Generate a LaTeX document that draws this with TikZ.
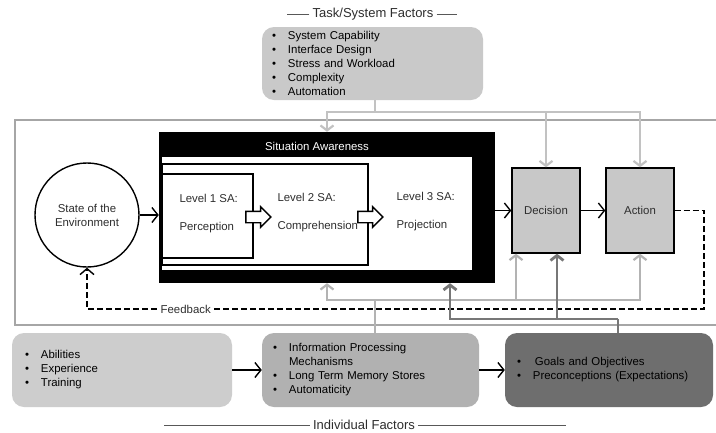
\documentclass[tikz,border=0pt]{standalone}
\usepackage{fontspec}
\setmainfont{Liberation Sans}
\usetikzlibrary{shapes,arrows,arrows.meta,positioning}
\definecolor{taskgray}{HTML}{C9C9C9}
\definecolor{boxgray}{HTML}{C8C8C8}
\definecolor{abilgray}{HTML}{CDCDCD}
\definecolor{infogray}{HTML}{B1B1B1}
\definecolor{goalgray}{HTML}{6E6E6E}
\definecolor{lightline}{HTML}{C2C2C2}
\definecolor{midline}{HTML}{B3B3B3}
\definecolor{darkline}{HTML}{777777}
\definecolor{framegray}{HTML}{A6A6A6}
\definecolor{ink}{HTML}{2E2E2E}
\tikzstyle{title} = [font=\fontsize{13}{15}\selectfont,text=ink,inner sep=3pt]
\tikzstyle{rule} = [-,line width=1pt,color=ink!80]
\tikzstyle{factor} = [rectangle,rounded corners=12pt,minimum height=74pt,align=left,text=black]
\tikzstyle{unit} = [draw,line width=1.4pt,rectangle,fill=boxgray,minimum width=68pt,minimum height=85pt,text=ink]
\tikzstyle{frame} = [-,line width=1.3pt,color=framegray]
\tikzstyle{level} = [anchor=west,align=left,text=ink]
\tikzstyle{levelbox} = [draw,line width=1.8pt,rectangle,inner sep=0]
\tikzstyle{block} = [single arrow,draw,line width=1.4pt,fill=white,minimum height=25pt,inner xsep=0,inner ysep=5pt,single arrow head extend=4.5pt]
\tikzstyle{flow} = [-{Straight Barb[length=6pt,width=15pt]},line width=1.4pt]
\tikzstyle{feedback} = [-{Straight Barb[length=6pt,width=14pt]},line width=1.4pt,dashed,dash pattern=on 6pt off 3pt]
\tikzstyle{taskline} = [-{Straight Barb[length=5pt,width=13pt]},line width=2.2pt,color=lightline]
\tikzstyle{indline} = [-{Straight Barb[length=5pt,width=13pt]},line width=2.2pt,color=midline]
\tikzstyle{goalline} = [-{Straight Barb[length=5pt,width=13pt]},line width=2.8pt,color=darkline]
\def \bl {\makebox[16pt][l]{\textbullet}}
\def \fs {\fontsize{11.4}{14}\selectfont}

\begin{document}
\begin{tikzpicture}[x=1pt,y=-1pt,font=\fs]
  \useasboundingbox[fill=white] (0,0) rectangle (716,432);
  \node[title] (tasktitle) at (373,14) {Task/System Factors};
  \draw[rule] (tasktitle.west) -- +(-22,0);
  \draw[rule] (tasktitle.east) -- +(20,0);
  \node[factor,fill=taskgray,inner xsep=10pt,text width=201pt,minimum height=73pt] (task) at (372.5,63.5)
    {\bl System Capability\\ \bl Interface Design\\ \bl Stress and Workload\\ \bl Complexity\\ \bl Automation};
  \draw[frame] (15,120) rectangle (724,325);

  \node[circle,draw,line width=1.4pt,minimum size=104pt,align=center,text=ink] (env) at (87,215) {State of the\\Environment};

  \node[rectangle,fill=black,minimum width=336pt,minimum height=151pt,inner sep=0] (sa) at (327,207.5) {};
  \node[rectangle,fill=white,minimum width=310pt,minimum height=113pt,inner sep=0] (sain) at (317,213.5) {};
  \node[text=white] (satitle) at (317,146) {Situation Awareness};
  \node[levelbox,minimum width=206pt,minimum height=101pt] (lv2box) at (265,214.5) {};
  \node[levelbox,minimum width=91pt,minimum height=84pt] (lv1box) at (207.5,216) {};
  \node[level] (lv1) at (176,214) {Level 1 SA:\\[14pt]Perception};
  \node[level] (lv2) at (274,213) {Level 2 SA:\\[14pt]Comprehension};
  \node[level] (lv3) at (393,212) {Level 3 SA:\\[14pt]Projection};
  \node[block] (blk1) at (255.5,217) {};
  \node[block] (blk2) at (367.5,217) {};

  \node[unit] (dec) at (546,210.5) {Decision};
  \node[unit] (act) at (640,210.5) {Action};

  \draw[flow] (env.east) -- (env.east -| sa.west);
  \draw[flow] (sa.east |- dec.west) -- (dec.west);
  \draw[flow] (dec) -- (act);

  \coordinate (fbr) at (704,309);
  \coordinate (fbl) at (87,309);
  \draw[feedback] (act.east) -| (fbr) -- (fbl) node[pos=.84,fill=white,inner sep=1pt,text=ink] (fbtext) {Feedback} -- (env.south);

  \coordinate (tsplit) at (375,112);
  \draw[taskline,-] (task.south -| tsplit) -- (tsplit);
  \draw[taskline] (tsplit) -| (sa.north);
  \draw[taskline] (tsplit) -| (dec.north);
  \draw[taskline] (tsplit) -| (act.north);

  \node[factor,fill=abilgray,inner xsep=13pt,text width=194pt] (abil) at (122,370)
    {\bl Abilities\\ \bl Experience\\ \bl Training};
  \node[factor,fill=infogray,inner xsep=11pt,text width=195pt] (info) at (370.5,370)
    {\bl Information Processing\\ \hspace*{16pt}Mechanisms\\ \bl Long Term Memory Stores\\ \bl Automaticity};
  \node[factor,fill=goalgray,inner xsep=12pt,text width=184pt] (goals) at (609,370)
    {\bl\hspace{2pt}Goals and Objectives\\ \bl Preconceptions (Expectations)};
  \draw[flow] (abil) -- (info);
  \draw[flow] (info) -- (goals);

  \coordinate (isplit) at (375,300);
  \draw[indline,-] (isplit |- info.north) -- (isplit);
  \draw[indline] (isplit) -| (sa.south);
  \draw[indline] (isplit) -| ([xshift=-30pt]dec.south);
  \draw[indline] (isplit) -| (act.south);

  \coordinate (gsplit) at (618,319);
  \draw[goalline,-] (gsplit |- goals.north) -- (gsplit);
  \draw[goalline] (gsplit) -| ([xshift=123pt]sa.south);
  \draw[goalline] (gsplit) -| ([xshift=11pt]dec.south);

  \node[title] (indtitle) at (364,425) {Individual Factors};
  \draw[rule] (indtitle.west) -- +(-146,0);
  \draw[rule] (indtitle.east) -- +(148,0);
\end{tikzpicture}
\end{document}
